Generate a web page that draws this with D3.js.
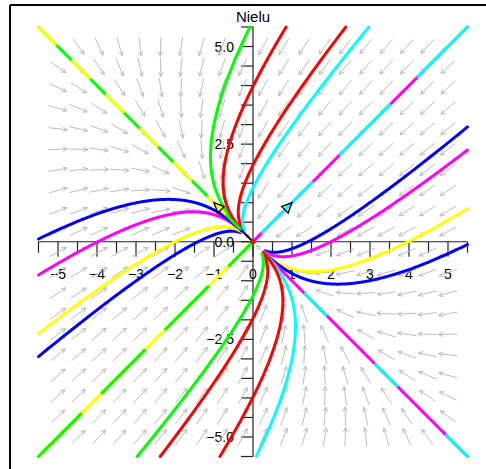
<!DOCTYPE html>
<html>
<head>
<meta charset="utf-8">
<script src="https://cdn.jsdelivr.net/npm/d3@7"></script>
<style>
  body { margin: 0; background: #fff; }
  text { font-family: "Liberation Sans", Arial, sans-serif; }
</style>
</head>
<body>
<div id="chart"></div>
<script>
// linear system x' = A x, read from the direction field
const systemMatrix = [[-2, -1], [-1, -2]];

// trajectories: start point on the border, colour, integration time
const trajColor = ["lime", "red", "red", "cyan", "magenta", "cyan",
  "blue", "magenta", "yellow", "blue", "magenta", "cyan",
  "cyan", "red", "red", "lime", "yellow", "lime",
  "blue", "yellow", "magenta", "blue", "lime", "yellow"];
const trajX0 = [-0.08, 0.85, 2.38, 2.97, 5.5, 5.5,
  5.5, 5.5, 5.5, 5.5, 5.5, 5.5,
  0.08, -0.85, -2.38, -2.97, -5.5, -5.5,
  -5.5, -5.5, -5.5, -5.5, -5.5, -5.5];
const trajY0 = [5.5, 5.5, 5.5, 5.5, 5.5, 5.5,
  2.94, 2.35, 0.85, -0.07, -5.5, -5.5,
  -5.5, -5.5, -5.5, -5.5, -5.5, -5.5,
  -2.94, -2.35, -0.85, 0.07, 5.5, 5.5];
const trajTime = [2.33, 2.15, 1.76, 1.55, 3.0, 3.0,
  1.55, 1.76, 2.15, 2.33, 3.0, 3.0,
  2.33, 2.15, 1.76, 1.55, 3.0, 3.0,
  1.55, 1.76, 2.15, 2.33, 2.8, 2.8];
// second curve on an eigen line shows through in pieces
const trajDash = [null, null, null, null, null, "70,40",
  null, null, null, null, null, "30,70",
  null, null, null, null, null, "60,30",
  null, null, null, null, null, "24,24"];

// eigenvectors drawn from the origin
const eigenVectors = [[1, 1], [-1, 1]];

const xTicks = d3.range(-5.5, 5.51, 0.5);
const yTicks = d3.range(-5.5, 5.51, 0.5);
const xLabels = [-5, -4, -3, -2, -1, 0, 1, 2, 3, 4, 5];
const yLabels = [-5, -2.5, 0, 2.5, 5];
const arrowGrid = d3.range(20).map(i => -5 + i * 10 / 19);

const width = 486, height = 469;
const svg = d3.select("#chart").append("svg")
  .attr("width", width)
  .attr("height", height);

const x = d3.scaleLinear().domain([-5.5, 5.5]).range([38.5, 467.5]);
const y = d3.scaleLinear().domain([-5.5, 5.5]).range([456.5, 27]);

const field = (px, py) => [
  systemMatrix[0][0] * px + systemMatrix[0][1] * py,
  systemMatrix[1][0] * px + systemMatrix[1][1] * py
];

// frame (only top and left edges fall inside the picture)
svg.append("line").attr("x1", 10).attr("y1", 5).attr("x2", width).attr("y2", 5)
  .attr("stroke", "#000").attr("stroke-width", 2);
svg.append("line").attr("x1", 10).attr("y1", 5).attr("x2", 10).attr("y2", height)
  .attr("stroke", "#000").attr("stroke-width", 2);

// title
svg.append("text")
  .attr("x", x(0)).attr("y", 22)
  .attr("text-anchor", "middle")
  .attr("font-size", 15)
  .text("Nielu");

// axes
const axes = svg.append("g").attr("stroke", "#222").attr("stroke-width", 1.2);
axes.append("line").attr("x1", x(-5.5)).attr("x2", x(5.5)).attr("y1", y(0)).attr("y2", y(0));
axes.append("line").attr("x1", x(0)).attr("x2", x(0)).attr("y1", y(-5.5)).attr("y2", y(5.5));
axes.selectAll("line.xt").data(xTicks).enter().append("line")
  .attr("class", "xt")
  .attr("x1", d => x(d)).attr("x2", d => x(d))
  .attr("y1", y(0)).attr("y2", d => y(0) + (Number.isInteger(d) ? 15 : 11));
axes.selectAll("line.yt").data(yTicks).enter().append("line")
  .attr("class", "yt")
  .attr("y1", d => y(d)).attr("y2", d => y(d))
  .attr("x1", x(0)).attr("x2", x(0) - 12);

const fmt = v => (v < 0 ? "\u2212" : "") + Math.abs(v);
svg.selectAll("text.xl").data(xLabels).enter().append("text")
  .attr("class", "xl")
  .attr("x", d => x(d)).attr("y", y(0) + 37)
  .attr("text-anchor", "middle")
  .attr("font-size", 14)
  .text(fmt);
svg.selectAll("text.yl").data(yLabels).enter().append("text")
  .attr("class", "yl")
  .attr("x", x(0) - 19).attr("y", d => y(d) + 5)
  .attr("text-anchor", "end")
  .attr("font-size", 14)
  .text(d => (d < 0 ? "\u2212" : "") + Math.abs(d).toFixed(1));

// direction field
const arrowLen = 19, headLen = 5;
const arrows = svg.append("g").attr("stroke", "#bdbdbd").attr("stroke-width", 1).attr("fill", "none");
arrowGrid.forEach(gx => {
  arrowGrid.forEach(gy => {
    const [vx, vy] = field(gx, gy);
    const ang = Math.atan2(-vy, vx); // screen angle
    const cx = x(gx), cy = y(gy);
    const dx = Math.cos(ang) * arrowLen / 2, dy = Math.sin(ang) * arrowLen / 2;
    const tx = cx + dx, ty = cy + dy;
    const p = d3.path();
    p.moveTo(cx - dx, cy - dy);
    p.lineTo(tx, ty);
    [0.45, -0.45].forEach(a => {
      p.moveTo(tx, ty);
      p.lineTo(tx - headLen * Math.cos(ang + a), ty - headLen * Math.sin(ang + a));
    });
    arrows.append("path").attr("d", p.toString());
  });
});

// eigenvector shafts (under the curves)
eigenVectors.forEach(([ex, ey]) => {
  svg.append("line")
    .attr("x1", x(0)).attr("y1", y(0)).attr("x2", x(ex)).attr("y2", y(ey))
    .attr("stroke", "#000").attr("stroke-width", 2);
});

// trajectories (RK4)
function integrate(x0, y0, T) {
  const dt = 0.005;
  const pts = [[x0, y0]];
  let cx = x0, cy = y0;
  const n = Math.round(T / dt);
  for (let i = 0; i < n; i++) {
    const k1 = field(cx, cy);
    const k2 = field(cx + dt / 2 * k1[0], cy + dt / 2 * k1[1]);
    const k3 = field(cx + dt / 2 * k2[0], cy + dt / 2 * k2[1]);
    const k4 = field(cx + dt * k3[0], cy + dt * k3[1]);
    cx += dt / 6 * (k1[0] + 2 * k2[0] + 2 * k3[0] + k4[0]);
    cy += dt / 6 * (k1[1] + 2 * k2[1] + 2 * k3[1] + k4[1]);
    pts.push([cx, cy]);
  }
  return pts;
}

const line = d3.line().x(d => x(d[0])).y(d => y(d[1]));
const curves = svg.append("g").attr("fill", "none");
trajX0.forEach((x0, i) => {
  curves.append("path")
    .attr("d", line(integrate(x0, trajY0[i], trajTime[i])))
    .attr("stroke", trajColor[i])
    .attr("stroke-width", 3)
    .attr("stroke-linecap", "round")
    .attr("stroke-dasharray", trajDash[i]);
});

// eigenvector heads on top
eigenVectors.forEach(([ex, ey]) => {
  const ang = Math.atan2(y(ey) - y(0), x(ex) - x(0));
  const tx = x(ex), ty = y(ey);
  const hl = 10, hw = 4.5;
  const pts = [[tx, ty],
    [tx - hl * Math.cos(ang) + hw * Math.sin(ang), ty - hl * Math.sin(ang) - hw * Math.cos(ang)],
    [tx - hl * Math.cos(ang) - hw * Math.sin(ang), ty - hl * Math.sin(ang) + hw * Math.cos(ang)]];
  svg.append("polygon")
    .attr("points", pts.map(p => p.join(",")).join(" "))
    .attr("fill", "none").attr("stroke", "#000").attr("stroke-width", 1.3);
});

// equilibrium point
svg.append("circle")
  .attr("cx", x(0)).attr("cy", y(0)).attr("r", 2.5)
  .attr("fill", "red");
</script>
</body>
</html>
